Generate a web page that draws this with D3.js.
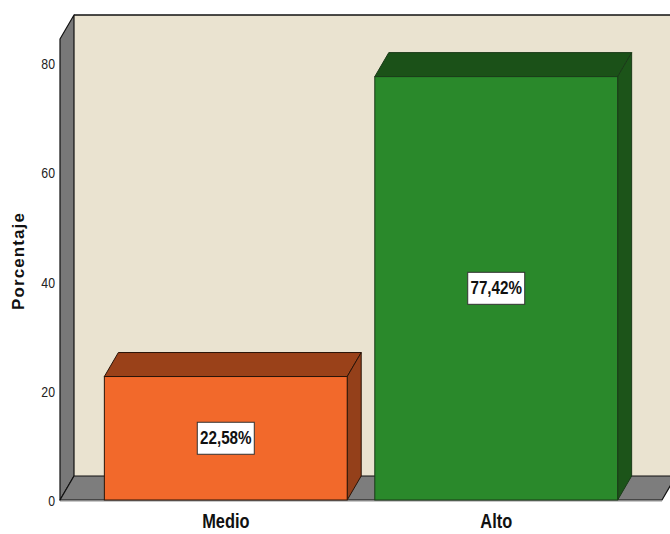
<!DOCTYPE html>
<html>
<head>
<meta charset="utf-8">
<script src="https://cdn.jsdelivr.net/npm/d3@7"></script>
<style>
  html, body { margin: 0; padding: 0; background: #ffffff; }
  svg { display: block; }
</style>
</head>
<body>
<div id="chart"></div>
<script>
// Nivel alcanzado: porcentaje de casos por categoría
const categories = ["Medio", "Alto"];
const percentages = [22.58, 77.42];
const yTicks = [0, 20, 40, 60, 80];
const frontColors = ["#f2692b", "#2a892b"];
const topColors = ["#9a4119", "#1b5118"];
const sideColors = ["#94401a", "#1c5419"];

const width = 670, height = 534;
const depthX = 14, depthY = 24;   // oblique offset of the back plane
const narrow = 0.82;              // horizontal squeeze for condensed labels
const fontFam = "'Liberation Sans', Arial, sans-serif";

const svg = d3.select("#chart").append("svg")
  .attr("width", width).attr("height", height);

// front plane scales
const x = d3.scaleBand()
  .domain(categories)
  .range([60, 662])
  .paddingInner(0.102)
  .paddingOuter(0.164);

const y = d3.scaleLinear()
  .domain([0, 84.3])
  .range([500, 39]);

const x0 = x.range()[0], x1 = x.range()[1];
const yBase = y(0), yTop = y(84.3);

const poly = pts => "M" + pts.map(p => p.join(",")).join("L") + "Z";

// back wall
svg.append("path")
  .attr("d", poly([[x0 + depthX, yTop - depthY], [x1 + depthX + 20, yTop - depthY],
                   [x1 + depthX + 20, yBase - depthY], [x0 + depthX, yBase - depthY]]))
  .attr("fill", "#eae3d0");
svg.append("line")
  .attr("x1", x0 + depthX).attr("x2", width)
  .attr("y1", yTop - depthY).attr("y2", yTop - depthY)
  .attr("stroke", "#111").attr("stroke-width", 1.3);

// left wall
svg.append("path")
  .attr("d", poly([[x0, yTop], [x0 + depthX, yTop - depthY],
                   [x0 + depthX, yBase - depthY], [x0, yBase]]))
  .attr("fill", "#787878").attr("stroke", "#111").attr("stroke-width", 1.2)
  .attr("stroke-linejoin", "round");

// floor
svg.append("path")
  .attr("d", poly([[x0, yBase], [x1, yBase], [x1 + depthX, yBase - depthY],
                   [x0 + depthX, yBase - depthY]]))
  .attr("fill", "#7d7d7d").attr("stroke", "#111").attr("stroke-width", 1.2)
  .attr("stroke-linejoin", "round");
svg.append("line")
  .attr("x1", x0).attr("x2", x1)
  .attr("y1", yBase + 1.5).attr("y2", yBase + 1.5)
  .attr("stroke", "#c8c8c8").attr("stroke-width", 1);

// tick labels
svg.append("g").selectAll("text")
  .data(yTicks).join("text")
  .attr("transform", d => `translate(55,${y(d) + 2.5}) scale(${narrow},1)`)
  .attr("text-anchor", "end")
  .attr("dominant-baseline", "middle")
  .attr("font-family", fontFam)
  .attr("font-size", 15)
  .attr("fill", "#222")
  .text(d => d);

// bars
const bars = svg.append("g").selectAll("g")
  .data(categories.map((c, i) => ({ c, v: percentages[i], i })))
  .join("g");

bars.each(function(d) {
  const g = d3.select(this);
  const bx = x(d.c), bw = x.bandwidth(), by = y(d.v);
  const outline = d.i === 0 ? "#2a1408" : "#1a3a18";
  // top face
  g.append("path")
    .attr("d", poly([[bx, by], [bx + depthX, by - depthY], [bx + bw + depthX, by - depthY], [bx + bw, by]]))
    .attr("fill", topColors[d.i]).attr("stroke", outline).attr("stroke-width", 1)
    .attr("stroke-linejoin", "round");
  // side face
  g.append("path")
    .attr("d", poly([[bx + bw, by], [bx + bw + depthX, by - depthY], [bx + bw + depthX, yBase - depthY], [bx + bw, yBase]]))
    .attr("fill", sideColors[d.i]).attr("stroke", outline).attr("stroke-width", 1)
    .attr("stroke-linejoin", "round");
  // front face
  g.append("rect")
    .attr("x", bx).attr("y", by)
    .attr("width", bw).attr("height", yBase - by)
    .attr("fill", frontColors[d.i]).attr("stroke", outline).attr("stroke-width", 1);
});

// value labels
const fmt = v => d3.format(".2f")(v).replace(".", ",") + "%";
bars.each(function(d) {
  const g = d3.select(this);
  const cx = x(d.c) + x.bandwidth() / 2;
  const cy = (y(d.v) + yBase) / 2;
  g.append("rect")
    .attr("x", cx - 28.5).attr("y", cy - 16)
    .attr("width", 57).attr("height", 32)
    .attr("fill", "#ffffff").attr("stroke", "#333").attr("stroke-width", 1);
  g.append("text")
    .attr("transform", `translate(${cx},${cy + 1}) scale(0.8,1)`)
    .attr("text-anchor", "middle")
    .attr("dominant-baseline", "middle")
    .attr("font-family", fontFam)
    .attr("font-weight", "bold")
    .attr("font-size", 19)
    .attr("fill", "#111")
    .text(fmt(d.v));
});

// category labels
svg.append("g").selectAll("text")
  .data(categories).join("text")
  .attr("transform", d => `translate(${x(d) + x.bandwidth() / 2},523) scale(${narrow},1)`)
  .attr("text-anchor", "middle")
  .attr("dominant-baseline", "middle")
  .attr("font-family", fontFam)
  .attr("font-weight", "bold")
  .attr("font-size", 20)
  .attr("fill", "#111")
  .text(d => d);

// y-axis title
svg.append("text")
  .attr("transform", "translate(24,261) rotate(-90)")
  .attr("text-anchor", "middle")
  .attr("font-family", fontFam)
  .attr("font-weight", "bold")
  .attr("font-size", 17)
  .attr("letter-spacing", 1.1)
  .attr("fill", "#111")
  .text("Porcentaje");
</script>
</body>
</html>
